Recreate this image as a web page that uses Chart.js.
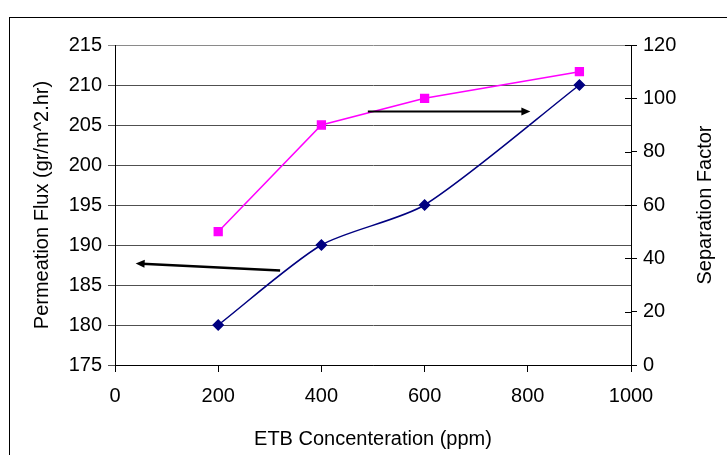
<!DOCTYPE html>
<html>
<head>
<meta charset="utf-8">
<script src="https://cdn.jsdelivr.net/npm/chart.js@4"></script>
<style>
  body { margin: 0; background: #fff; }
  #chart { display: block; }
</style>
</head>
<body>
<canvas id="chart" width="727" height="455"></canvas>
<script>
// Data
const concentration = [200, 400, 600, 900];
const permeationFlux = [180, 190, 195, 210];
const separationFactor = [50, 90, 100, 110];

const xTitle = 'ETB Concenteration (ppm)';
const yLeftTitle = 'Permeation Flux (gr/m^2.hr)';
const yRightTitle = 'Separation Factor';

// arrows pointing to the axis each series belongs to: [x, yLeft]
const arrowFlux = [[320, 186.8], [40, 187.7]];
const arrowSep = [[490, 206.7], [805, 206.7]];

const FONT = 'Liberation Sans, Arial, sans-serif';

// --- extras: outer border, right axis title, arrows ---
const extras = {
    id: 'extras',
    beforeDraw(chart) {
        const ctx = chart.ctx;
        ctx.save();
        ctx.fillStyle = '#fff';
        ctx.fillRect(0, 0, chart.width, chart.height);
        ctx.strokeStyle = '#000';
        ctx.lineWidth = 1;
        ctx.strokeRect(9.5, 17.5, 800, 500);
        ctx.restore();
    },
    afterDraw(chart) {
        const ctx = chart.ctx;
        const x = chart.scales.x, yl = chart.scales.y, yr = chart.scales.y2;
        ctx.save();

        // right axis ticks cross the axis line
        ctx.strokeStyle = '#000';
        ctx.lineWidth = 1;
        yr.ticks.forEach(t => {
            const py = Math.round(yr.getPixelForValue(t.value)) + 0.5;
            ctx.beginPath();
            ctx.moveTo(yr.left - 6, py);
            ctx.lineTo(yr.left, py);
            ctx.stroke();
        });

        // right axis title, reading bottom to top
        ctx.fillStyle = '#000';
        ctx.font = '20px ' + FONT;
        ctx.textAlign = 'center';
        ctx.textBaseline = 'middle';
        ctx.translate(705, (chart.chartArea.top + chart.chartArea.bottom) / 2);
        ctx.rotate(-Math.PI / 2);
        ctx.fillText(yRightTitle, 0, 0);
        ctx.setTransform(1, 0, 0, 1, 0, 0);

        const drawArrow = (pts, width) => {
            const x1 = x.getPixelForValue(pts[0][0]), y1 = yl.getPixelForValue(pts[0][1]);
            const x2 = x.getPixelForValue(pts[1][0]), y2 = yl.getPixelForValue(pts[1][1]);
            const ang = Math.atan2(y2 - y1, x2 - x1);
            const head = 9;
            ctx.strokeStyle = '#000';
            ctx.fillStyle = '#000';
            ctx.lineWidth = width;
            ctx.beginPath();
            ctx.moveTo(x1, y1);
            ctx.lineTo(x2 - Math.cos(ang) * head * 0.7, y2 - Math.sin(ang) * head * 0.7);
            ctx.stroke();
            ctx.beginPath();
            ctx.moveTo(x2, y2);
            ctx.lineTo(x2 - head * Math.cos(ang) + 4 * Math.sin(ang), y2 - head * Math.sin(ang) - 4 * Math.cos(ang));
            ctx.lineTo(x2 - head * Math.cos(ang) - 4 * Math.sin(ang), y2 - head * Math.sin(ang) + 4 * Math.cos(ang));
            ctx.closePath();
            ctx.fill();
        };
        drawArrow(arrowFlux, 2.5);
        drawArrow(arrowSep, 2);
        ctx.restore();
    }
};

new Chart(document.getElementById('chart').getContext('2d'), {
    type: 'line',
    data: {
        datasets: [
            {
                label: 'Permeation Flux',
                data: concentration.map((c, i) => ({ x: c, y: permeationFlux[i] })),
                yAxisID: 'y',
                borderColor: '#000080',
                backgroundColor: '#000080',
                borderWidth: 1.5,
                pointStyle: 'rectRot',
                pointRadius: 5,
                tension: 0.25,
                fill: false
            },
            {
                label: 'Separation Factor',
                data: concentration.map((c, i) => ({ x: c, y: separationFactor[i] })),
                yAxisID: 'y2',
                borderColor: '#ff00ff',
                backgroundColor: '#ff00ff',
                borderWidth: 1.5,
                pointStyle: 'rect',
                pointRadius: 5.5,
                tension: 0,
                fill: false
            }
        ]
    },
    options: {
        responsive: false,
        animation: false,
        layout: { padding: { top: 45, left: 0, right: 0, bottom: 0 } },
        plugins: { legend: { display: false }, tooltip: { enabled: false } },
        scales: {
            x: {
                type: 'linear',
                min: 0, max: 1000,
                afterFit: s => { s.height = 90; },
                ticks: { stepSize: 200, color: '#000', font: { family: FONT, size: 20 }, padding: 12, maxRotation: 0,
                         callback: v => String(v) },
                grid: { drawOnChartArea: false, tickLength: 7, color: '#000' },
                border: { color: '#000', width: 1 },
                title: { display: true, text: xTitle, color: '#000', font: { family: FONT, size: 20 }, padding: { top: 4 } }
            },
            y: {
                position: 'left',
                min: 175, max: 215,
                afterFit: s => { s.width = 115; },
                ticks: { stepSize: 5, color: '#000', font: { family: FONT, size: 20 }, padding: 6 },
                grid: {
                    color: ctx => ctx.tick && ctx.tick.value === 215 ? '#8a8a8a' : '#505050',
                    tickLength: 7,
                    lineWidth: 1
                },
                border: { color: '#000', width: 1 },
                title: { display: true, text: yLeftTitle, color: '#000', font: { family: FONT, size: 20 }, padding: { top: 30, bottom: 0 } }
            },
            y2: {
                position: 'right',
                min: 0, max: 120,
                afterFit: s => { s.width = 96; },
                ticks: { stepSize: 20, color: '#000', font: { family: FONT, size: 20 }, padding: 6 },
                grid: { drawOnChartArea: false, tickLength: 6, color: '#000' },
                border: { color: '#000', width: 1 }
            }
        }
    },
    plugins: [extras]
});
</script>
</body>
</html>
